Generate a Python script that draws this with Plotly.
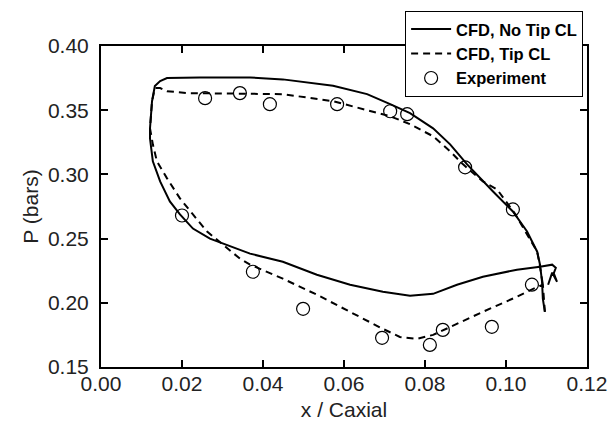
import plotly.graph_objects as go

# CFD, No Tip CL (solid) - closed loop: TE hook -> suction side -> LE -> pressure side -> TE
no_tip_x = [0.1104, 0.1114, 0.1126, 0.1118, 0.1123, 0.1114, 0.1084, 0.1027, 0.0943, 0.0879,
            0.0820, 0.0763, 0.0696, 0.0615, 0.0533, 0.0449, 0.0368, 0.0311, 0.0269, 0.0227,
            0.0195, 0.0170, 0.0146, 0.0128, 0.0121, 0.0121, 0.0126, 0.0133, 0.0146, 0.0163,
            0.0244, 0.0368, 0.0449, 0.0573, 0.0657, 0.0714, 0.0763, 0.0820, 0.0862, 0.0904,
            0.0943, 0.0968, 0.1017, 0.1052, 0.1077, 0.1084, 0.1089, 0.1091, 0.1096]
no_tip_p = [0.2141, 0.2235, 0.2164, 0.2230, 0.2273, 0.2297, 0.2281, 0.2258, 0.2203, 0.2141,
            0.2070, 0.2055, 0.2086, 0.2141, 0.2219, 0.2320, 0.2383, 0.2453, 0.2500, 0.2578,
            0.2688, 0.2789, 0.2945, 0.3102, 0.3281, 0.3359, 0.3570, 0.3688, 0.3727, 0.3750,
            0.3755, 0.3755, 0.3740, 0.3690, 0.3625, 0.3547, 0.3477, 0.3359, 0.3234, 0.3078,
            0.2945, 0.2867, 0.2711, 0.2555, 0.2398, 0.2297, 0.2164, 0.2031, 0.1930]

# CFD, Tip CL (dashed): TE spike -> suction side -> LE -> pressure side -> TE
tip_x = [0.1096, 0.1091, 0.1067, 0.1027, 0.0943, 0.0862, 0.0820, 0.0780, 0.0738, 0.0696,
         0.0615, 0.0533, 0.0449, 0.0368, 0.0343, 0.0301, 0.0262, 0.0227, 0.0195, 0.0163,
         0.0138, 0.0128, 0.0121, 0.0126, 0.0133, 0.0146, 0.0163, 0.0212, 0.0368, 0.0449,
         0.0573, 0.0640, 0.0714, 0.0763, 0.0820, 0.0862, 0.0894, 0.0943, 0.0978, 0.1022,
         0.1052, 0.1077, 0.1084, 0.1091]
tip_p = [0.1930, 0.2141, 0.2109, 0.2047, 0.1930, 0.1813, 0.1750, 0.1719, 0.1734, 0.1797,
         0.1930, 0.2063, 0.2188, 0.2297, 0.2344, 0.2453, 0.2555, 0.2688, 0.2813, 0.2969,
         0.3102, 0.3234, 0.3359, 0.3570, 0.3672, 0.3672, 0.3648, 0.3633, 0.3625, 0.3625,
         0.3570, 0.3516, 0.3453, 0.3391, 0.3297, 0.3180, 0.3078, 0.2945, 0.2883, 0.2695,
         0.2539, 0.2398, 0.2281, 0.2141]

# Experiment
exp_x = [0.0200, 0.0257, 0.0343, 0.0417, 0.0583, 0.0714, 0.0756, 0.0899, 0.1017, 0.1064,
         0.0375, 0.0499, 0.0694, 0.0812, 0.0844, 0.0965]
exp_p = [0.2680, 0.3594, 0.3633, 0.3547, 0.3547, 0.3492, 0.3469, 0.3055, 0.2727, 0.2141,
         0.2242, 0.1953, 0.1727, 0.1672, 0.1789, 0.1813]

x_ticks = [0.00, 0.02, 0.04, 0.06, 0.08, 0.10, 0.12]
y_ticks = [0.15, 0.20, 0.25, 0.30, 0.35, 0.40]

FONT = "Liberation Sans, Arial, Helvetica, sans-serif"

fig = go.Figure()
fig.add_trace(go.Scatter(x=no_tip_x, y=no_tip_p, mode="lines", name="CFD, No Tip CL",
                         line=dict(color="black", width=2)))
fig.add_trace(go.Scatter(x=tip_x, y=tip_p, mode="lines", name="CFD, Tip CL",
                         line=dict(color="black", width=2, dash="7px,5px")))
fig.add_trace(go.Scatter(x=exp_x, y=exp_p, mode="markers", name="Experiment",
                         marker=dict(symbol="circle-open", size=13, color="black",
                                     line=dict(width=1.2, color="black"))))

axis_common = dict(showgrid=False, zeroline=False, showline=True, linecolor="black",
                   linewidth=2, mirror="ticks", ticks="inside", ticklen=7, tickwidth=1.5,
                   tickcolor="black",
                   tickfont=dict(family=FONT, size=21, color="#222"))

fig.update_xaxes(range=[0, 0.12], tickvals=x_ticks, tickformat=".2f", ticklabelstandoff=-3,
                 automargin=False,
                 title=dict(text="x / Caxial", font=dict(family=FONT, size=21, color="#222")),
                 **axis_common)
fig.update_yaxes(range=[0.15, 0.40], tickvals=y_ticks, tickformat=".2f", ticklabelstandoff=6,
                 automargin=True,
                 title=dict(text="P (bars)", font=dict(family=FONT, size=21, color="#222"),
                            standoff=4),
                 **axis_common)

fig.update_layout(
    width=616, height=421,
    margin=dict(l=101, r=29, t=45, b=54),
    plot_bgcolor="white", paper_bgcolor="white",
    showlegend=True,
    legend=dict(x=0.992, y=1.106, xanchor="right", yanchor="top",
                bgcolor="white", bordercolor="black", borderwidth=1,
                font=dict(family=FONT, size=16.5, color="black", weight="bold"),
                tracegroupgap=0, itemwidth=40),
)

fig.write_html("out.html")
